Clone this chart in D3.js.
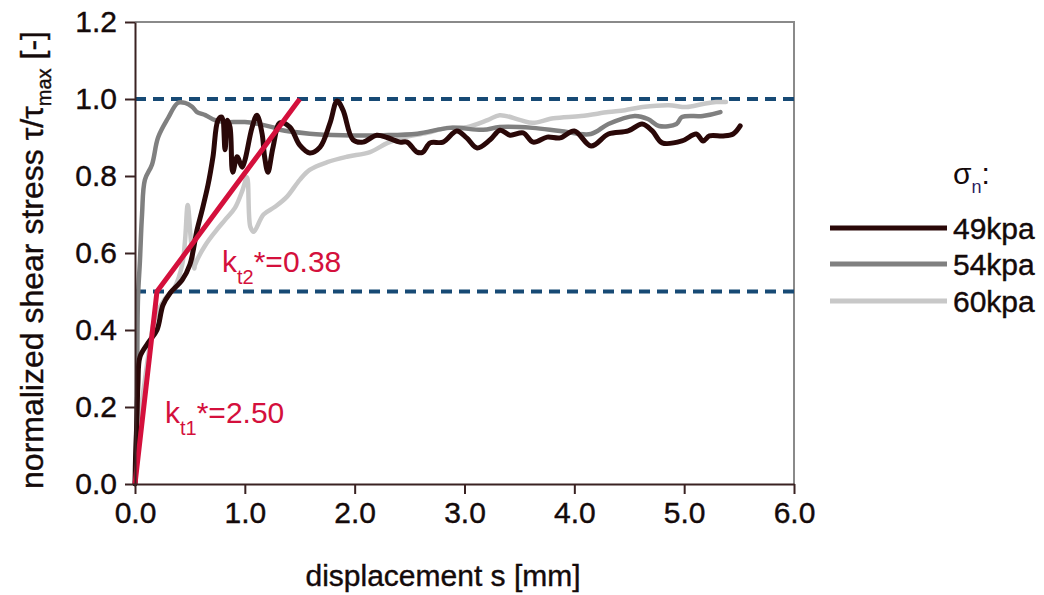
<!DOCTYPE html>
<html><head><meta charset="utf-8">
<script src="https://cdn.jsdelivr.net/npm/d3@7"></script>
<style>body{margin:0;background:#fff}svg{display:block}text{font-family:"Liberation Sans",Arial,sans-serif}</style>
</head><body><svg id="c" width="1044" height="595"></svg>
<script>
const xTicks = [0,1,2,3,4,5,6];
const yTicks = [0,0.2,0.4,0.6,0.8,1.0,1.2];
const refLevels = [0.5, 1.0];
const seriesNames = ["49kpa","54kpa","60kpa"];
const s49 = [[0,0],[0.005,0.07],[0.018,0.174],[0.027,0.262],[0.045,0.33],[0.118,0.366],[0.2,0.4],[0.255,0.465],[0.32,0.496],[0.43,0.53],[0.5,0.57],[0.565,0.66],[0.61,0.71],[0.665,0.777],[0.71,0.85],[0.756,0.945],[0.79,0.953],[0.82,0.868],[0.84,0.945],[0.865,0.927],[0.89,0.81],[0.93,0.85],[0.975,0.823],[1.0,0.84],[1.065,0.925],[1.11,0.958],[1.157,0.91],[1.18,0.85],[1.21,0.81],[1.257,0.875],[1.32,0.938],[1.41,0.927],[1.5,0.88],[1.59,0.86],[1.685,0.875],[1.776,0.938],[1.84,0.995],[1.894,0.971],[1.985,0.894],[2.076,0.888],[2.2,0.906],[2.295,0.9],[2.41,0.888],[2.477,0.888],[2.568,0.862],[2.62,0.862],[2.687,0.886],[2.805,0.888],[2.93,0.917],[3.02,0.899],[3.115,0.873],[3.233,0.894],[3.324,0.919],[3.415,0.906],[3.534,0.912],[3.625,0.888],[3.752,0.901],[3.87,0.899],[4.0,0.917],[4.153,0.878],[4.31,0.909],[4.49,0.917],[4.617,0.935],[4.71,0.917],[4.8,0.886],[4.98,0.891],[5.11,0.909],[5.173,0.891],[5.23,0.904],[5.355,0.904],[5.446,0.909],[5.51,0.93]];
const s54 = [[0,0],[0.018,0.22],[0.027,0.48],[0.045,0.58],[0.064,0.7],[0.09,0.79],[0.155,0.83],[0.21,0.9],[0.3,0.95],[0.39,0.99],[0.455,0.99],[0.52,0.98],[0.565,0.966],[0.64,0.958],[0.73,0.945],[0.82,0.94],[1.0,0.94],[1.25,0.927],[1.32,0.92],[1.59,0.91],[1.89,0.906],[2.26,0.906],[2.57,0.91],[2.87,0.925],[3.17,0.92],[3.32,0.927],[3.62,0.925],[3.87,0.917],[4.15,0.909],[4.31,0.935],[4.55,0.956],[4.67,0.948],[4.77,0.93],[4.93,0.935],[4.98,0.953],[5.17,0.956],[5.33,0.966]];
const s60 = [[0,0],[0.045,0.17],[0.09,0.27],[0.14,0.37],[0.18,0.43],[0.27,0.48],[0.36,0.51],[0.43,0.57],[0.455,0.63],[0.48,0.725],[0.51,0.63],[0.54,0.56],[0.546,0.569],[0.64,0.62],[0.73,0.655],[0.82,0.686],[0.91,0.717],[0.98,0.764],[1.02,0.797],[1.05,0.668],[1.08,0.655],[1.17,0.7],[1.275,0.72],[1.38,0.745],[1.5,0.79],[1.59,0.816],[1.75,0.836],[1.93,0.85],[2.14,0.862],[2.3,0.886],[2.44,0.9],[2.66,0.912],[2.84,0.925],[3.02,0.927],[3.21,0.945],[3.32,0.958],[3.51,0.945],[3.62,0.938],[3.81,0.95],[4.06,0.956],[4.31,0.966],[4.46,0.971],[4.62,0.979],[4.86,0.984],[5.02,0.979],[5.17,0.987],[5.29,0.992],[5.38,0.992]];
const fitLine = [[0,0],[0.2,0.5],[1.5,1.0]];

const svg = d3.select("#c");
const L=135,R=794,T=22,B=484;
const x = d3.scaleLinear().domain([0,6]).range([L,R]);
const y = d3.scaleLinear().domain([0,1.2]).range([B,T]);
const axisCol="#3a2222";
const txtCol="#140a0a";

// frame top/right
svg.append("path").attr("d",`M${L},${T}H${R}V${B}`).attr("fill","none").attr("stroke","#8a8a8a").attr("stroke-width",2);

// dashed reference lines
svg.selectAll("line.ref").data(refLevels).join("line").attr("class","ref")
  .attr("x1",x(0)).attr("x2",x(6)).attr("y1",d=>y(d)).attr("y2",d=>y(d))
  .attr("stroke","#174a75").attr("stroke-width",4).attr("stroke-dasharray","11,7");

const line = d3.line().x(d=>x(d[0])).y(d=>y(d[1])).curve(d3.curveCatmullRom.alpha(0.5));
const cols = {"49kpa":"#2a0808","54kpa":"#808080","60kpa":"#c8c8c8"};
[[s60,"60kpa"],[s54,"54kpa"],[s49,"49kpa"]].forEach(([d,n])=>{
  svg.append("path").datum(d).attr("d",line).attr("fill","none").attr("stroke",cols[n])
    .attr("stroke-width",n==="49kpa"?5:4.5).attr("stroke-linejoin","round").attr("stroke-linecap","round");
});
// red fit
svg.append("path").datum(fitLine).attr("d",d3.line().x(d=>x(d[0])).y(d=>y(d[1])))
  .attr("fill","none").attr("stroke","#d4103c").attr("stroke-width",5).attr("stroke-linejoin","round");

// axes
const gx = svg.append("g").attr("transform",`translate(0,${B})`)
  .call(d3.axisBottom(x).tickValues(xTicks).tickFormat(d3.format(".1f")).tickSize(10).tickSizeOuter(0).tickPadding(8));
const gy = svg.append("g").attr("transform",`translate(${L},0)`)
  .call(d3.axisLeft(y).tickValues(yTicks).tickFormat(d3.format(".1f")).tickSize(10).tickSizeOuter(0).tickPadding(8));
[gx,gy].forEach(g=>{
  g.select(".domain").attr("stroke",axisCol).attr("stroke-width",2);
  g.selectAll(".tick line").attr("stroke",axisCol).attr("stroke-width",2);
  g.selectAll(".tick text").attr("fill",txtCol).attr("stroke",txtCol).attr("stroke-width",0.4)
    .style("font-size","30px").style("font-family","Liberation Sans, Arial, sans-serif");
});

// axis titles
svg.append("text").attr("x",443).attr("y",586).attr("text-anchor","middle")
  .style("font-size","30px").attr("fill",txtCol).attr("stroke",txtCol).attr("stroke-width",0.4).text("displacement s [mm]");
const yt = svg.append("text").attr("transform","translate(43,260) rotate(-90)").attr("text-anchor","middle")
  .style("font-size","32px").attr("fill",txtCol).attr("stroke",txtCol).attr("stroke-width",0.4);
yt.append("tspan").text("normalized shear stress τ/τ");
yt.append("tspan").attr("dy",8).style("font-size","20px").text("max");
yt.append("tspan").attr("dy",-8).text(" [-]");

// annotations
function kLabel(xp,yp,sub,val){
  const t = svg.append("text").attr("x",xp).attr("y",yp).attr("fill","#d4103c").style("font-size","30px");
  t.append("tspan").text("k");
  t.append("tspan").attr("dy",12).style("font-size","20px").text(sub);
  t.append("tspan").attr("dy",-12).text("*="+val);
}
kLabel(222,272,"t2","0.38");
kLabel(165,423,"t1","2.50");

// legend
const lg = svg.append("g");
const st = lg.append("text").attr("x",953).attr("y",184).attr("fill",txtCol).style("font-size","30px");
st.append("tspan").text("σ");
st.append("tspan").attr("dy",9).style("font-size","18px").attr("fill","#2a2060").text("n");
st.append("tspan").attr("dy",-9).text(":");
const lgY = [228,264,301];
seriesNames.forEach((n,i)=>{
  lg.append("line").attr("x1",830).attr("x2",947).attr("y1",lgY[i]).attr("y2",lgY[i])
    .attr("stroke",cols[n]).attr("stroke-width",5);
  lg.append("text").attr("x",953).attr("y",lgY[i]+11).attr("fill",txtCol).attr("stroke",txtCol).attr("stroke-width",0.4)
    .style("font-size","30px").text(n);
});
</script></body></html>
